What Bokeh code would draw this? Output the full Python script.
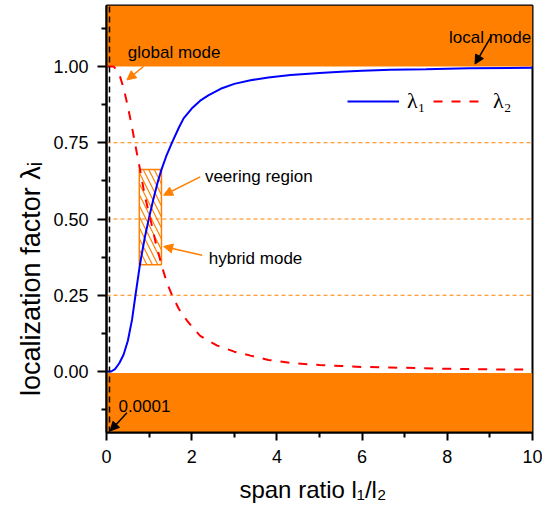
from bokeh.plotting import figure
from bokeh.models import (Range1d, FixedTicker, NumeralTickFormatter, Label,
                          Arrow, NormalHead, Legend, LegendItem)
from bokeh.embed import file_html
from bokeh.resources import INLINE

# ---- data ----
ratio_1 = [0.0, 0.11, 0.2, 0.3, 0.4, 0.5, 0.6, 0.68, 0.79, 0.9, 1.0, 1.1, 1.2, 1.29, 1.4, 1.54,
           1.7, 1.81, 2.0, 2.2, 2.4, 2.68, 3.0, 3.38, 3.8, 4.32, 5.0, 5.5, 6.0, 6.67, 7.5, 8.5, 10.0]
lambda_1 = [0.0, 0.0, 0.008, 0.027, 0.055, 0.10, 0.17, 0.25, 0.355, 0.44, 0.505, 0.565, 0.62,
            0.662, 0.705, 0.751, 0.80, 0.83, 0.862, 0.888, 0.906, 0.927, 0.943, 0.955, 0.964,
            0.972, 0.979, 0.983, 0.986, 0.989, 0.991, 0.994, 0.996]
ratio_2 = [0.02, 0.16, 0.2, 0.3, 0.4, 0.5, 0.6, 0.68, 0.79, 0.9, 1.03, 1.15, 1.3, 1.42, 1.54,
           1.7, 1.89, 2.05, 2.2, 2.4, 2.6, 3.0, 3.38, 3.8, 4.32, 5.0, 5.5, 6.0, 6.67, 8.0, 9.0, 10.0]
lambda_2 = [1.0, 1.0, 0.995, 0.975, 0.93, 0.87, 0.80, 0.74, 0.66, 0.575, 0.50, 0.425, 0.345,
            0.29, 0.25, 0.205, 0.167, 0.14, 0.117, 0.10, 0.085, 0.065, 0.052, 0.038, 0.028,
            0.021, 0.018, 0.015, 0.013, 0.009, 0.007, 0.006]

x_ticks = [0, 2, 4, 6, 8, 10]
x_minor = [1, 3, 5, 7, 9]
y_ticks = [0.0, 0.25, 0.5, 0.75, 1.0]
y_minor = [-0.125, 0.125, 0.375, 0.625, 0.875, 1.125]
ref_levels = [0.25, 0.5, 0.75]

band_x = [0, 10]
local_band = [1.0, 1.2]
global_band = [-0.2, -0.005]
limit_ratio = 0.07
veering_x = [0.77, 1.29]
veering_y = [0.35, 0.662]

note_text = ["global mode", "local mode", "veering region", "hybrid mode", "0.0001"]
note_x = [0.50, 8.04, 2.31, 2.40, 0.28]
note_y = [1.045, 1.094, 0.638, 0.37, -0.113]

arrow_x0 = [0.87, 9.03, 2.2, 2.245, 0.48]
arrow_y0 = [1.0, 1.099, 0.638, 0.381, -0.135]
arrow_x1 = [0.48, 8.65, 1.34, 1.34, 0.087]
arrow_y1 = [0.956, 1.008, 0.578, 0.41, -0.195]
arrow_col = ["#FF8000", "black", "#FF8000", "#FF8000", "black"]

ORANGE = "#FF8000"
SANS = "Liberation Sans"
SERIF = "Liberation Serif"
NBSP = "\u00a0"

p = figure(width=542, height=511, x_range=Range1d(0, 10), y_range=Range1d(-0.2, 1.2),
           output_backend="svg", toolbar_location=None,
           min_border_left=106, min_border_right=10, min_border_top=5, min_border_bottom=79)
p.grid.visible = False
p.outline_line_color = "black"
p.outline_line_width = 2
p.outline_line_alpha = 1

# bands
p.quad(left=band_x[0], right=band_x[1], bottom=local_band[0], top=local_band[1],
       fill_color=ORANGE, line_color=None)
p.quad(left=band_x[0], right=band_x[1], bottom=global_band[0], top=global_band[1],
       fill_color=ORANGE, line_color=None)

# reference dashed lines
p.multi_line(xs=[band_x for _ in ref_levels], ys=[[v, v] for v in ref_levels],
             line_color=ORANGE, line_width=1, line_dash="4 3")

# veering region box
p.quad(left=veering_x[0], right=veering_x[1], bottom=veering_y[0], top=veering_y[1],
       fill_alpha=0, line_color=ORANGE, line_width=1.5,
       hatch_pattern="\\", hatch_color=ORANGE, hatch_scale=11, hatch_weight=1.2)

r1 = p.line(ratio_1, lambda_1, line_color="#0000FF", line_width=2)
r2 = p.line(ratio_2, lambda_2, line_color="#FF0000", line_width=2, line_dash="9 9")

# vertical limit line
p.line([limit_ratio, limit_ratio], [-0.2, 1.2], line_color="black", line_width=1.5, line_dash="6 4")

for t, x, y in zip(note_text, note_x, note_y):
    p.add_layout(Label(x=x, y=y, text=t, text_font=SANS, text_font_size="17px",
                       text_color="black", text_align="left", text_baseline="middle"))

for x0, y0, x1, y1, c in zip(arrow_x0, arrow_y0, arrow_x1, arrow_y1, arrow_col):
    p.add_layout(Arrow(x_start=x0, y_start=y0, x_end=x1, y_end=y1, line_color=c, line_width=1.5,
                       end=NormalHead(size=9, fill_color=c, line_color=c)))

# axes
for ax, tick_out in ((p.xaxis[0], 8), (p.yaxis[0], 9)):
    ax.axis_line_width = 2
    ax.axis_line_color = "black"
    ax.major_tick_line_width = 2
    ax.minor_tick_line_width = 2
    ax.major_tick_in = 0
    ax.minor_tick_in = 0
    ax.major_tick_out = tick_out
    ax.minor_tick_out = 5
    ax.major_label_text_font = SANS
    ax.major_label_text_font_size = "18px"
    ax.major_label_text_color = "black"
    ax.axis_label_text_font = SANS
    ax.axis_label_text_font_style = "normal"
    ax.axis_label_text_color = "black"

p.xaxis.ticker = FixedTicker(ticks=x_ticks, minor_ticks=x_minor)
p.yaxis.ticker = FixedTicker(ticks=y_ticks, minor_ticks=y_minor)
p.yaxis.formatter = NumeralTickFormatter(format="0.00")
p.xaxis[0].major_label_standoff = 9
p.yaxis[0].major_label_standoff = 9

p.xaxis[0].axis_label = "span ratio l₁/l₂" + NBSP * 2
p.xaxis[0].axis_label_text_font_size = "24px"
p.xaxis[0].axis_label_standoff = 10
p.yaxis[0].axis_label = "localization factor λᵢ" + NBSP * 16
p.yaxis[0].axis_label_text_font_size = "27px"
p.yaxis[0].axis_label_standoff = 4

# legend
legend = Legend(items=[LegendItem(label="λ₁", renderers=[r1]), LegendItem(label="λ₂", renderers=[r2])],
                orientation="horizontal", location=(241, 318),
                label_text_font=SERIF, label_text_font_size="22px", label_text_color="black",
                glyph_width=52, glyph_height=20, label_standoff=8, spacing=6,
                padding=0, margin=0, border_line_alpha=0, background_fill_alpha=0)
p.add_layout(legend)

open("out.html", "w").write(file_html(p, INLINE))
